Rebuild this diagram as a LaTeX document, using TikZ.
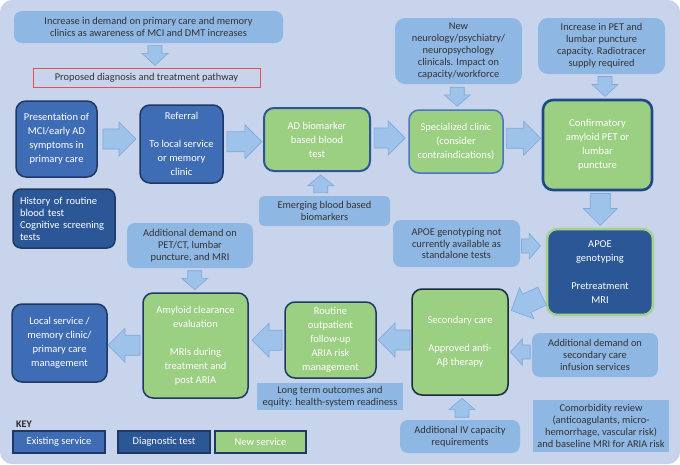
\documentclass[tikz,border=0pt]{standalone}
\usepackage{fontspec}
\setmainfont{Carlito}
\usetikzlibrary{calc}
\definecolor{bgc}{HTML}{C8D3EC}
\definecolor{ctx}{HTML}{8FB7E4}
\definecolor{exist}{HTML}{3E6DB5}
\definecolor{diag}{HTML}{2B5797}
\definecolor{newc}{HTML}{9BCF82}
\definecolor{navy}{HTML}{1F3864}
\definecolor{darkline}{HTML}{1B2A3A}
\definecolor{midblue}{HTML}{4A76BE}
\definecolor{adbline}{HTML}{2F5597}
\definecolor{confline}{HTML}{1F4A86}
\definecolor{apoeline}{HTML}{A9D18E}
\definecolor{arrfill}{HTML}{9EC3EA}
\definecolor{arrline}{HTML}{7CA8DA}
\definecolor{redb}{HTML}{E05058}
\definecolor{txt}{HTML}{333333}
\tikzset{
  box/.style={rounded corners=10pt, align=center, inner sep=0pt, text=white,
    font=\fontsize{10.5}{14}\selectfont, line width=1.5pt},
  existbox/.style={box, fill=exist, draw=navy},
  diagbox/.style={box, fill=diag, draw=navy},
  newbox/.style={box, fill=newc, draw=navy},
  ctxbox/.style={rounded corners=8pt, fill=ctx, align=center, text=txt, inner sep=0pt,
    font=\fontsize{10.4}{11.9}\selectfont},
  sqbox/.style={ctxbox, rounded corners=0pt},
  keybox/.style={align=center, inner sep=0pt, text=white, line width=1.3pt,
    font=\fontsize{10.5}{13}\selectfont, minimum height=22pt},
  arrsty/.style={fill=arrfill, draw=arrline, line width=0.6pt, line join=miter},
}
% #1 name, #2 centre, #3 angle, #4 length, #5 shaft width, #6 head width
\newcommand{\blockarrow}[6]{%
  \coordinate (#1) at (#2);
  \begin{scope}[shift={(#1)}, rotate=#3]
    \pgfmathsetmacro\baHL{min(#6/2, 0.6*#4)}
    \filldraw[arrsty] ({-#4/2},{-#5/2}) -- ({#4/2-\baHL},{-#5/2}) -- ({#4/2-\baHL},{-#6/2})
      -- ({#4/2},0) -- ({#4/2-\baHL},{#6/2}) -- ({#4/2-\baHL},{#5/2}) -- ({-#4/2},{#5/2}) -- cycle;
  \end{scope}}
\newcommand{\bigarrow}[4]{\blockarrow{#1}{#2}{#3}{#4}{20}{34}}
\newcommand{\smallarrow}[4]{\blockarrow{#1}{#2}{#3}{#4}{14}{26}}
\begin{document}
\begin{tikzpicture}[x={(1pt,0)}, y={(0,-1pt)}]
\useasboundingbox (0,0) rectangle (680,464);
\fill[white] (0,0) rectangle (680,464);
\fill[bgc, rounded corners=12pt] (0,0) rectangle (680,464);

% context / top
\node[ctxbox, minimum width=269pt, minimum height=32pt] (demand) at (148.5,27)
  {Increase in demand on primary care and memory\\clinics as awareness of MCI and DMT increases};
\node[draw=redb, line width=1pt, text=txt, inner sep=0pt, minimum width=227pt, minimum height=19pt,
  font=\fontsize{10.4}{12}\selectfont] (proposed) at (146.5,77.5) {Proposed diagnosis and treatment pathway};

% main row
\node[existbox, minimum width=81pt, minimum height=76pt] (pres) at (56.5,139)
  {Presentation of\\MCI/early AD\\symptoms in\\primary care};
\node[existbox, minimum width=83pt, minimum height=78pt] (ref) at (181.5,144)
  {Referral\\[14pt]To local service\\or memory\\clinic};
\node[newbox, draw=adbline, line width=2pt, minimum width=106pt, minimum height=63pt] (adb) at (317,139.5)
  {AD biomarker\\based blood\\test};
\node[ctxbox, rounded corners=5pt, minimum width=131pt, minimum height=30pt] (emerg) at (324.5,211)
  {Emerging blood based\\biomarkers};
\node[newbox, draw=midblue, minimum width=94pt, minimum height=63pt] (spec) at (456,141.5)
  {Specialized clinic\\(consider\\contraindications)};
\node[newbox, draw=confline, line width=2.6pt, minimum width=109pt, minimum height=90pt] (conf) at (597.5,145)
  {Confirmatory\\amyloid PET or\\lumbar\\puncture};
\node[ctxbox, rounded corners=10pt, minimum width=127pt, minimum height=66pt] (neuro) at (458.5,51)
  {New\\neurology/psychiatry/\\neuropsychology\\clinicals. Impact on\\capacity/workforce};
\node[ctxbox, rounded corners=10pt, minimum width=127pt, minimum height=56pt] (pet) at (601.5,46)
  {Increase in PET and\\lumbar puncture\\capacity. Radiotracer\\supply required};

\node[diagbox, rounded corners=8pt, minimum width=102pt, minimum height=59pt, align=left,
  text width=88pt, inner xsep=7pt, font=\fontsize{10.5}{12}\selectfont] (hist) at (64,218.5)
  {History of routine\\blood test\\Cognitive screening\\tests};

\node[ctxbox, minimum width=126pt, minimum height=45pt] (petct) at (190,245.5)
  {Additional demand on\\PET/CT, lumbar\\puncture, and MRI};
\node[ctxbox, minimum width=127pt, minimum height=47pt] (apoena) at (456.5,243.5)
  {APOE genotyping not\\currently available as\\standalone tests};
\node[diagbox, draw=apoeline, line width=2.6pt, minimum width=106pt, minimum height=86pt] (apoe) at (600,272)
  {APOE\\genotyping\\[14pt]Pretreatment\\MRI};

% bottom row
\node[newbox, draw=darkline, minimum width=96pt, minimum height=106pt] (sec) at (460,342)
  {Secondary care\\[14pt]Approved anti-\\Aβ therapy};
\node[ctxbox, minimum width=120pt, minimum height=33pt] (iv) at (460,436.5)
  {Additional IV capacity\\requirements};
\node[ctxbox, minimum width=126pt, minimum height=44pt] (secdem) at (595,355)
  {Additional demand on\\secondary care\\infusion services};
\node[sqbox, minimum width=136pt, minimum height=52pt] (comorb) at (601,426)
  {Comorbidity review\\(anticoagulants, micro-\\hemorrhage, vascular risk)\\and baseline MRI for ARIA risk};
\node[newbox, minimum width=91pt, minimum height=76pt] (rout) at (330.5,340)
  {Routine\\outpatient\\follow-up\\ARIA risk\\management};
\node[sqbox, minimum width=146pt, minimum height=27pt] (longterm) at (330,396.5)
  {Long term outcomes and\\equity: health-system readiness};
\node[newbox, minimum width=105pt, minimum height=105pt] (amy) at (195.5,345.5)
  {Amyloid clearance\\evaluation\\[14pt]MRIs during\\treatment and\\post ARIA};
\node[existbox, minimum width=95pt, minimum height=78pt] (local) at (59.5,343)
  {Local service /\\memory clinic/\\primary care\\management};

% key
\node[anchor=west, inner sep=0pt, text=black!85, font=\fontsize{10}{12}\selectfont\bfseries] (keylbl) at (16,424) {KEY};
\node[keybox, fill=exist, draw=navy, minimum width=92pt] (k1) at (59,442) {Existing service};
\node[keybox, fill=diag, draw=navy, minimum width=92pt] (k2) at (164,442) {Diagnostic test};
\node[keybox, fill=newc, draw=navy, minimum width=91pt] (k3) at (260.5,442) {New service};

% block arrows (centres taken between the named boxes)
\smallarrow{a1}{$(demand.south)!0.5!(proposed.north)+(7.5,0)$}{-90}{20}
\bigarrow{a2}{$(pres.east)!0.5!(ref.west)+(1,-2.5)$}{0}{33}
\bigarrow{a3}{$(ref.east)!0.5!(adb.west)+(1,0)$}{0}{35}
\bigarrow{a4}{$(adb.east)!0.5!(spec.west)+(0,-2.5)$}{0}{31}
\bigarrow{a5}{$(spec.east)!0.5!(conf.west)+(1,-5)$}{0}{34}
\smallarrow{a6}{$(neuro.south)!0.5!(spec.north)$}{-90}{19}
\smallarrow{a7}{$(pet.south)!0.5!(conf.north)+(5.5,0)$}{-90}{20}
\smallarrow{a8}{$(emerg.north)!0.5!(adb.south)$}{90}{18}
\bigarrow{a9}{$(conf.south)!0.5!(apoe.north)+(1.5,0)$}{-90}{32}
\smallarrow{a10}{$(apoena.east)!0.5!(apoena.east -| apoe.west)+(-2,2.5)$}{0}{19}
\bigarrow{a11}{$(apoe.south west)+(-19,-13)$}{205}{34}
\smallarrow{a12}{$(secdem.west)!0.5!(sec.east)+(0,3.5)$}{180}{20}
\smallarrow{a13}{$(iv.north)!0.5!(sec.south)+(2,0)$}{90}{19}
\bigarrow{a14}{$(sec.west)!0.5!(rout.east)+(0,-1)$}{180}{32}
\bigarrow{a15}{$(rout.west)!0.5!(amy.east)+(0.5,-2.5)$}{180}{30}
\bigarrow{a16}{$(amy.west)!0.5!(local.east)+(-1,1)$}{180}{32}
\smallarrow{a17}{$(petct.south)!0.5!(amy.north)+(2,0)$}{-90}{19}
\end{tikzpicture}
\end{document}
